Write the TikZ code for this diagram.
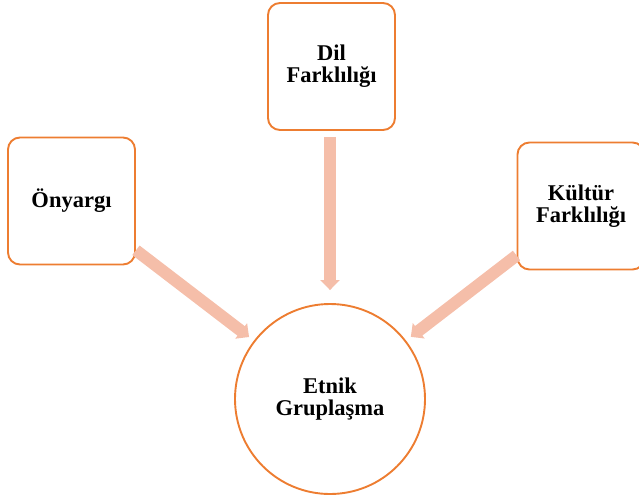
\documentclass[tikz,border=0pt]{standalone}
\usepackage{fontspec}
\setmainfont{Liberation Serif}
\usepackage{xcolor}
\usetikzlibrary{shapes.geometric, arrows.meta, positioning}
\definecolor{boxorange}{HTML}{ED7D31}
\definecolor{arrowpink}{HTML}{F5BEA9}
\tikzstyle{factor} = [draw=boxorange, line width=1.9pt, rounded corners=12pt, minimum width=127pt, minimum height=127pt, align=center, font=\bfseries\fontsize{22.5}{22}\selectfont]
\tikzstyle{result} = [draw=boxorange, line width=1.9pt, circle, minimum size=190pt, align=center, font=\bfseries\fontsize{22.5}{22}\selectfont]
\tikzstyle{arrow} = [draw=arrowpink, line width=12pt, -{Triangle[width=19pt,length=10pt]}]

\begin{document}
\begin{tikzpicture}[x=1pt, y=-1pt]
\useasboundingbox (0,0) rectangle (639,501);

% Factors
\node[factor] (dil) at (331.5,66.5) {Dil\\Farklılığı};
\node[factor] (onyargi) at (71.5,201) {Önyargı};
\node[factor] (kultur) at (581,206) {Kültür\\Farklılığı};

% Result
\node[result] (etnik) at (330,399) {Etnik\\Gruplaşma};

% Arrows
\draw[arrow, shorten <=6pt, shorten >=13pt] (dil.south -| etnik.north) -- (etnik.north);
\draw[arrow, shorten >=6pt] (onyargi) -- (etnik);
\draw[arrow, shorten >=6pt] (kultur) -- (etnik);
\end{tikzpicture}
\end{document}
